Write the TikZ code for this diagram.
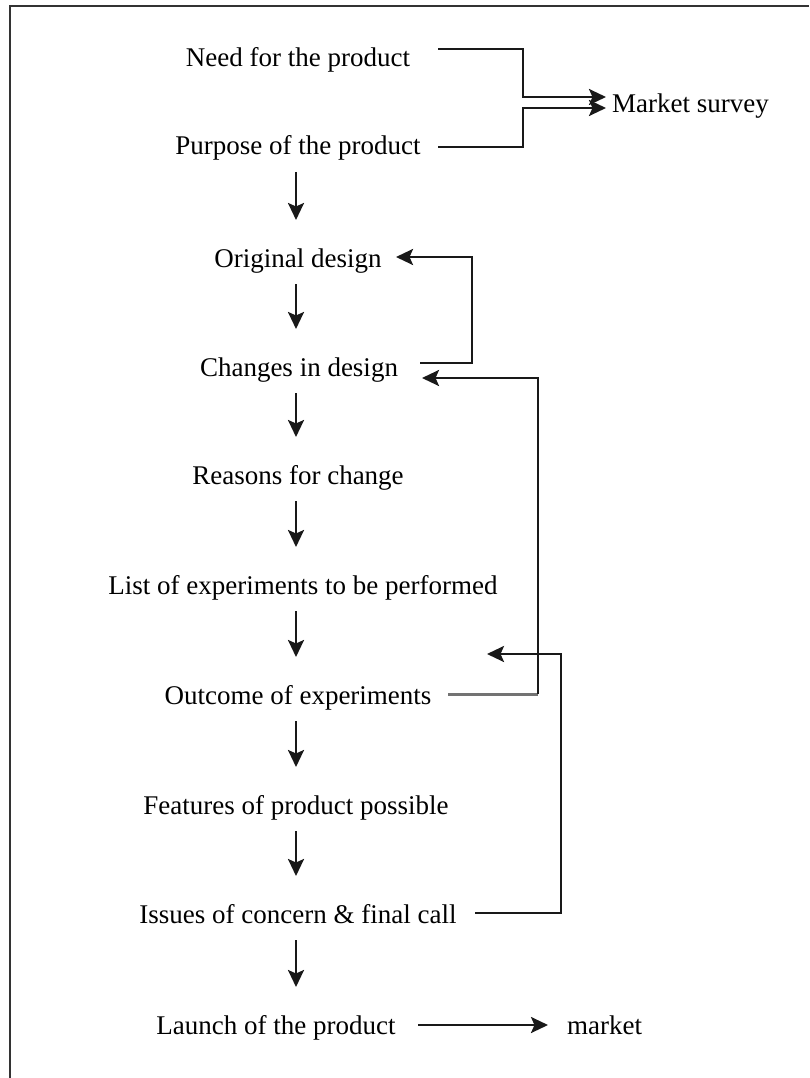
\documentclass[tikz,border=0pt]{standalone}
\usepackage{fontspec}
\setmainfont{Liberation Serif}
\usetikzlibrary{arrows.meta,calc}
\begin{document}
\begin{tikzpicture}[x=1pt,y=-1pt,
  lbl/.style={font=\fontsize{27}{32}\selectfont, inner sep=0pt, anchor=base},
  ln/.style={line width=2.6pt, black!90},
  arr/.style={ln, -{Stealth[length=17pt,width=16pt,inset=3.5pt]}}]
\useasboundingbox (0,0) rectangle (809,1078);
\draw[line width=2.6pt, black!80] (10,1078) -- (10,6) -- (809,6);

% nodes
\node[lbl] (need) at (298,67) {Need for the product};
\node[lbl] (purpose) at (298,155) {Purpose of the product};
\node[lbl, anchor=base west] (survey) at (612,113) {Market survey};
\node[lbl] (orig) at (298,267) {Original design};
\node[lbl] (chg) at (299,376) {Changes in design};
\node[lbl] (reasons) at (298,484) {Reasons for change};
\node[lbl] (list) at (303,594) {List of experiments to be performed};
\node[lbl] (outcome) at (298,704) {Outcome of experiments};
\node[lbl] (features) at (296,814) {Features of product possible};
\node[lbl] (issues) at (298,923) {Issues of concern \& final call};
\node[lbl] (launch) at (276,1034) {Launch of the product};
\node[lbl, anchor=base west] (market) at (567,1034) {market};

% connector ends
\coordinate (col) at (296,0);
\coordinate (needout) at (438,49);
\coordinate (purpout) at (438,147);
\coordinate (surveyin1) at (606,97);
\coordinate (surveyin2) at (606,108);
\coordinate (chgout) at (420,363);
\coordinate (origin) at (396,257);
\coordinate (outcomeout) at (448,694);
\coordinate (outcomebend) at (538,694);
\coordinate (chgin) at (422,378);
\coordinate (issuesout) at (475,913);
\coordinate (gapin) at (487,654);
\coordinate (launchout) at (418,1025);
\coordinate (marketin) at (548,1025);

% to market survey
\draw[arr] (needout) -- ++(85,0) |- (surveyin1);
\draw[arr] (purpout) -- ++(85,0) |- (surveyin2);

% main chain
\foreach \a/\b in {purpose/orig, orig/chg, chg/reasons, reasons/list, list/outcome, outcome/features, features/issues, issues/launch}
  \draw[arr] ($(col |- \a.base)+(0,17)$) -- ($(col |- \b.base)+(0,-47)$);

% feedback loops
\draw[arr] (chgout) -- ++(52,0) |- (origin);
\draw[ln, line width=3pt, black!55] (outcomeout) -- (outcomebend);
\draw[arr] (outcomebend) |- (chgin);
\draw[arr] (issuesout) -- ++(86,0) |- (gapin);

% launch
\draw[arr] (launchout) -- (marketin);
\end{tikzpicture}
\end{document}
